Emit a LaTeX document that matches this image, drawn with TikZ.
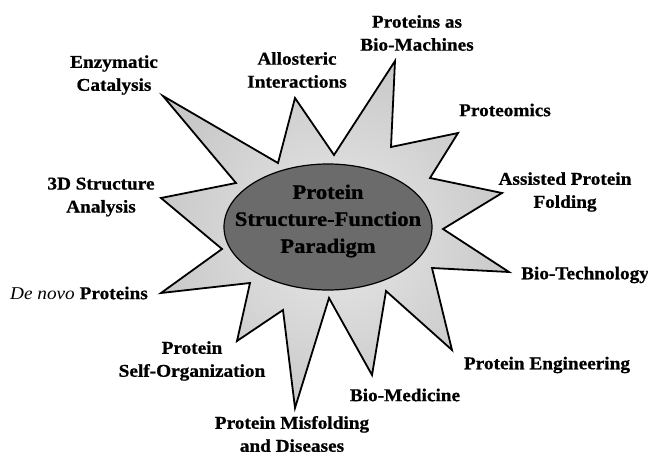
\documentclass[tikz,border=0pt]{standalone}
\usepackage{fontspec}
\setmainfont[FakeStretch=1.07, BoldFeatures={FakeBold=0.8}]{Liberation Serif}
\newfontfamily\ctrfont[FakeStretch=1.1, BoldFeatures={FakeBold=1}]{Liberation Serif}
\usetikzlibrary{shapes.geometric}
\begin{document}
\begin{tikzpicture}[x=1pt,y=-1pt,
  lab/.style={font=\bfseries\fontsize{18}{23}\selectfont, align=center, inner sep=0pt, text=black},
  ctrtext/.style={font=\ctrfont\bfseries\fontsize{20.5}{27}\selectfont, align=center, inner sep=0pt, text=black},
  starshape/.style={inner color=gray!18, outer color=gray!42, draw=black, line width=1.8pt, line join=miter},
  core/.style={ellipse, draw=black, line width=1.2pt, fill=black!58, minimum width=208pt, minimum height=126pt, inner sep=0pt}]
\useasboundingbox (0,0) rectangle (648,455);
% star vertices
\coordinate (t1) at (163,96);
\coordinate (v1) at (278,163);
\coordinate (t2) at (295,98);
\coordinate (v2) at (334,155);
\coordinate (t3) at (395,61);
\coordinate (v3) at (391,147);
\coordinate (t4) at (458,133);
\coordinate (v4) at (430,178);
\coordinate (t5) at (502,193);
\coordinate (v5) at (443,229);
\coordinate (t6) at (509,272);
\coordinate (v6) at (432,268);
\coordinate (t7) at (452,350);
\coordinate (v7) at (386,291);
\coordinate (t8) at (372,375);
\coordinate (v8) at (329,298);
\coordinate (t9) at (295,408);
\coordinate (v9) at (283,310);
\coordinate (t10) at (237,341);
\coordinate (v10) at (250,283);
\coordinate (t11) at (161,293);
\coordinate (v11) at (222,249);
\coordinate (t12) at (161,198);
\coordinate (v12) at (236,183);
\shadedraw[starshape] (t1) -- (v1) -- (t2) -- (v2) -- (t3) -- (v3) -- (t4) -- (v4)
  -- (t5) -- (v5) -- (t6) -- (v6) -- (t7) -- (v7) -- (t8) -- (v8) -- (t9) -- (v9)
  -- (t10) -- (v10) -- (t11) -- (v11) -- (t12) -- (v12) -- cycle;
\node[core] (centre) at (328,227) {};
\node[ctrtext] (title) at (328,221) {Protein\\Structure-Function\\Paradigm};
% labels
\node[lab] (lenz) at (114,75) {Enzymatic\\Catalysis};
\node[lab] (lallo) at (297,70) {Allosteric\\Interactions};
\node[lab] (lmach) at (417,33) {Proteins as\\Bio-Machines};
\node[lab] (lprot) at (505,110) {Proteomics};
\node[lab] (lassi) at (565,192) {Assisted Protein\\Folding};
\node[lab, anchor=west] (lbiot) at (521,275) {Bio-Technology};
\node[lab] (leng) at (547,365) {Protein Engineering};
\node[lab] (lmed) at (405,395) {Bio-Medicine};
\node[lab] (lmis) at (292,434) {Protein Misfolding\\and Diseases};
\node[lab] (lself) at (192,361) {Protein\\Self-Organization};
\node[lab] (lnovo) at (79,293) {{\mdseries\itshape De novo} Proteins};
\node[lab] (l3d) at (101,197) {3D Structure\\Analysis};
\end{tikzpicture}
\end{document}
